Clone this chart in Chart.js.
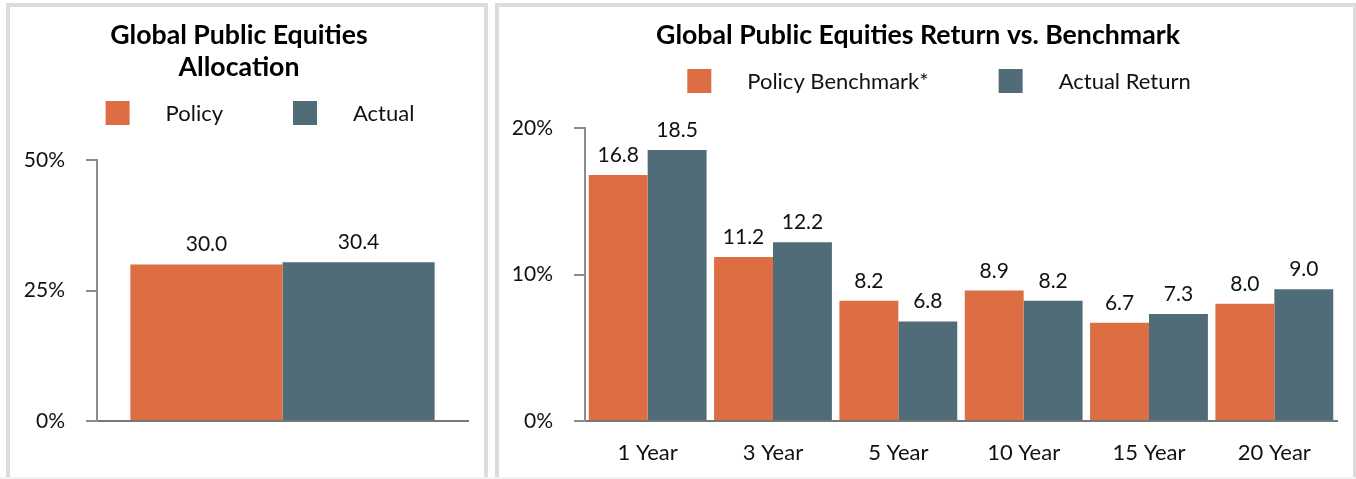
<!DOCTYPE html>
<html>
<head>
<meta charset="utf-8">
<script src="https://cdn.jsdelivr.net/npm/chart.js@4"></script>
<style>
  body { margin: 0; background: #fff; width: 1356px; height: 479px; overflow: hidden; position: relative; }
  .panel { position: absolute; top: 3px; border: 4px solid #dcdcdc; background: #fff; }
  #left { left: 6px; width: 474px; height: 480px; }
  #right { left: 495px; width: 854px; height: 480px; }
  canvas { display: block; }
  .foot { position: absolute; left: 0; top: 477px; width: 1356px; height: 2px; background: #f2f2f2; }
</style>
</head>
<body>
<div class="panel" id="left"><canvas id="allocChart" width="474" height="471"></canvas></div>
<div class="panel" id="right"><canvas id="returnChart" width="854" height="471"></canvas></div>
<div class="foot"></div>
<script>
// allocation chart data
const allocCategories = [""];
const policyAlloc = [30.0];
const actualAlloc = [30.4];

// return chart data
const periods = ["1 Year", "3 Year", "5 Year", "10 Year", "15 Year", "20 Year"];
const benchmarkReturn = [16.8, 11.2, 8.2, 8.9, 6.7, 8.0];
const actualReturn = [18.5, 12.2, 6.8, 8.2, 7.3, 9.0];

const orange = "#dd6d43";
const slate = "#516c79";
const textFont = "Lato";

// values written above each bar
const barValues = {
  id: "barValues",
  afterDatasetsDraw(chart) {
    let ctx = chart.ctx;
    ctx.save();
    ctx.font = "21px " + textFont;
    ctx.fillStyle = "#111";
    ctx.textAlign = "center";
    ctx.textBaseline = "alphabetic";
    chart.data.datasets.forEach((ds, i) => {
      chart.getDatasetMeta(i).data.forEach((bar, j) => {
        ctx.fillText(ds.data[j].toFixed(1), bar.x, bar.y - 13);
      });
    });
    ctx.restore();
  },
};

// square legend with wide spacing
const squareLegend = {
  id: "squareLegend",
  afterDraw(chart, args, opts) {
    let ctx = chart.ctx;
    ctx.save();
    ctx.font = "22px " + textFont;
    let box = 24, toText = 36, gap = 70;
    let items = chart.data.datasets.map((ds) => ({
      label: ds.label,
      color: ds.backgroundColor,
      w: ctx.measureText(ds.label).width,
    }));
    let total = items.reduce((s, it) => s + box + toText + it.w, 0) + gap * (items.length - 1);
    let x = (chart.width - total) / 2 + opts.shift;
    items.forEach((it) => {
      ctx.fillStyle = it.color;
      ctx.fillRect(x, opts.y - box / 2, box, box);
      ctx.fillStyle = "#111";
      ctx.textBaseline = "middle";
      ctx.fillText(it.label, x + box + toText, opts.y + 1);
      x += box + toText + it.w + gap;
    });
    ctx.restore();
  },
};

let makeOptions = (title, yMax, yStep, yAxisWidth, legendY) => ({
  responsive: false,
  animation: false,
  layout: { padding: { top: 0, left: 0, right: 16, bottom: 0 } },
  plugins: {
    legend: { display: false },
    tooltip: { enabled: false },
    title: {
      display: true,
      text: title,
      color: "#000",
      font: { family: textFont, size: 26.7, weight: "bold", lineHeight: "32px" },
      padding: { top: 12, bottom: 77 },
    },
    squareLegend: { y: legendY, shift: 13 },
  },
  scales: {
    x: {
      grid: { display: false },
      border: { display: true, color: "#777", width: 2 },
      ticks: { color: "#111", font: { family: textFont, size: 22 }, padding: 11 },
      afterFit: (scale) => { scale.height = 57; },
    },
    y: {
      min: 0,
      max: yMax,
      grid: { drawOnChartArea: false, drawTicks: true, tickLength: 11, color: "#8c8c8c", lineWidth: 2 },
      border: { display: true, color: "#8c8c8c", width: 2 },
      ticks: {
        stepSize: yStep,
        padding: 21,
        color: "#111",
        font: { family: textFont, size: 21 },
        callback: (v) => v + "%",
      },
      afterFit: (scale) => { scale.width = yAxisWidth; },
    },
  },
});

let allocCtx = document.getElementById("allocChart").getContext("2d");
new Chart(allocCtx, {
  type: "bar",
  data: {
    labels: allocCategories,
    datasets: [
      { label: "Policy", data: policyAlloc, backgroundColor: orange, categoryPercentage: 0.82, barPercentage: 1 },
      { label: "Actual", data: actualAlloc, backgroundColor: slate, categoryPercentage: 0.82, barPercentage: 1 },
    ],
  },
  options: makeOptions(["Global Public Equities", "Allocation"], 50, 25, 87, 106),
  plugins: [barValues, squareLegend],
});

let returnCtx = document.getElementById("returnChart").getContext("2d");
new Chart(returnCtx, {
  type: "bar",
  data: {
    labels: periods,
    datasets: [
      { label: "Policy Benchmark*", data: benchmarkReturn, backgroundColor: orange, categoryPercentage: 0.94, barPercentage: 1 },
      { label: "Actual Return", data: actualReturn, backgroundColor: slate, categoryPercentage: 0.94, barPercentage: 1 },
    ],
  },
  options: makeOptions("Global Public Equities Return vs. Benchmark", 20, 10, 86, 74),
  plugins: [barValues, squareLegend],
});
</script>
</body>
</html>
